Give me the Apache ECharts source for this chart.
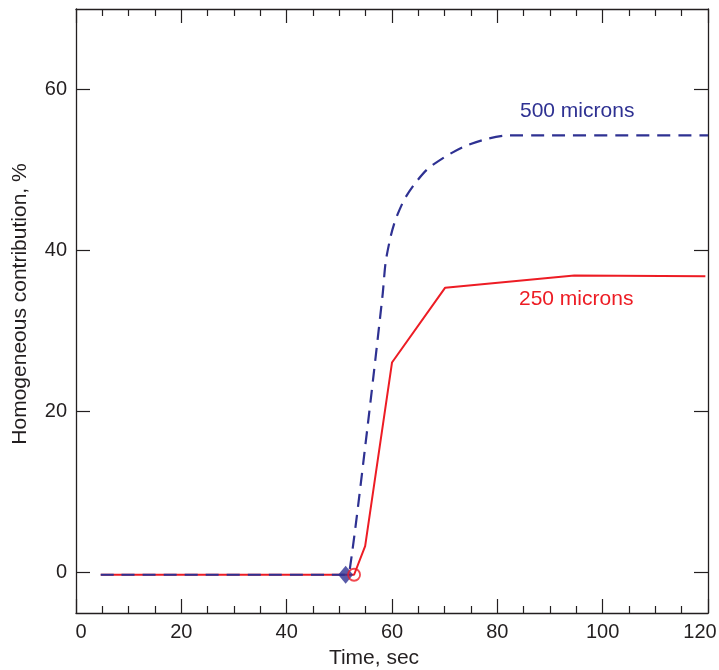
<!DOCTYPE html>
<html>
<head>
<meta charset="utf-8">
<script src="https://cdn.jsdelivr.net/npm/echarts@6/dist/echarts.min.js"></script>
<style>
html,body{margin:0;padding:0;background:#fff;}
#chart{width:719px;height:670px;}
</style>
</head>
<body>
<div id="chart"></div>
<script>
// ---- data ----
const xTicks = [0, 20, 40, 60, 80, 100, 120];
const yTicks = [0, 20, 40, 60];

const blue500X = [4.7, 51.2, 52.0, 55.3, 58.2, 58.8, 59.8, 60.7, 62.3, 64.2, 66.7, 70.2, 74.0, 78.2, 82.0, 120];
const blue500Y = [-0.25, -0.25, 0.5, 17.8, 34.4, 38.6, 41.9, 43.9, 46.3, 48.2, 50.1, 51.7, 53.0, 53.9, 54.3, 54.3];

const red250X = [4.7, 52.8, 54.9, 60.0, 70.1, 94.6, 119.5];
const red250Y = [-0.25, -0.25, 3.3, 26.1, 35.4, 36.9, 36.8];

const blueMarker = [51.2, -0.25];
const redMarker = [52.8, -0.25];

const seriesLabels = ['500 microns', '250 microns'];
const xName = 'Time, sec';
const yName = 'Homogeneous contribution, %';

// ---- chart ----
const zip = (xs, ys) => xs.map((x, i) => [x, ys[i]]);
const FONT = "'Liberation Sans', Arial, Helvetica, sans-serif";
const INK = '#231f20';
const BLUE = '#2e3192';
const RED = '#ed1c24';

const chart = echarts.init(document.getElementById('chart'), null, {renderer: 'canvas'});

const axisLineStyle = {show: true, onZero: false, lineStyle: {color: INK, width: 1.3}};
const lblStyle = {fontFamily: FONT, fontSize: 20, color: INK};
const xMin = xTicks[0], xMax = xTicks[xTicks.length - 1];

const option = {
  animation: false,
  backgroundColor: '#fff',
  grid: {left: 76, right: 11, top: 9, bottom: 57, containLabel: false, outerBoundsMode: 'none'},
  xAxis: [
    {
      type: 'value', position: 'bottom', min: xMin, max: xMax, interval: 20,
      name: xName, nameLocation: 'middle', nameGap: 35,
      nameTextStyle: {fontFamily: FONT, fontSize: 21, color: INK, padding: [0, 36, 0, 0]},
      axisLine: axisLineStyle,
      axisTick: {show: true, inside: true, length: 14, lineStyle: {color: INK, width: 1.2}},
      minorTick: {show: true, splitNumber: 4, length: 7, lineStyle: {color: INK, width: 1.2}},
      axisLabel: {
        fontFamily: FONT, fontSize: 20, color: INK, margin: 9,
        formatter: v => v === xMin ? '{pl|' + v + '}' : (v === xMax ? '{pr|' + v + '}' : String(v)),
        rich: {
          pl: Object.assign({padding: [0, 0, 0, 10]}, lblStyle),
          pr: Object.assign({padding: [0, 16, 0, 0]}, lblStyle)
        }
      },
      splitLine: {show: false}, minorSplitLine: {show: false}
    },
    {
      type: 'value', position: 'top', min: xMin, max: xMax, interval: 20,
      axisLine: axisLineStyle,
      axisTick: {show: true, inside: true, length: 14, lineStyle: {color: INK, width: 1.2}},
      minorTick: {show: true, splitNumber: 4, length: 7, lineStyle: {color: INK, width: 1.2}},
      axisLabel: {show: false},
      splitLine: {show: false}
    }
  ],
  yAxis: [
    {
      type: 'value', position: 'left', min: -5, max: 70,
      name: yName, nameLocation: 'middle', nameGap: 45,
      nameTextStyle: {fontFamily: FONT, fontSize: 21, color: INK, padding: [0, 0, 0, 14]},
      axisLine: axisLineStyle,
      axisTick: {show: true, inside: true, length: 14, customValues: yTicks, lineStyle: {color: INK, width: 1.2}},
      axisLabel: {fontFamily: FONT, fontSize: 20, color: INK, margin: 9, customValues: yTicks},
      splitLine: {show: false}
    },
    {
      type: 'value', position: 'right', min: -5, max: 70,
      axisLine: axisLineStyle,
      axisTick: {show: true, inside: true, length: 14, customValues: yTicks, lineStyle: {color: INK, width: 1.2}},
      axisLabel: {show: false, customValues: yTicks},
      splitLine: {show: false}
    }
  ],
  series: [
    {
      name: seriesLabels[1], type: 'line', xAxisIndex: 0, yAxisIndex: 0,
      data: zip(red250X, red250Y), symbol: 'none',
      lineStyle: {color: RED, width: 2}, z: 2
    },
    {
      name: seriesLabels[0], type: 'line', xAxisIndex: 0, yAxisIndex: 0,
      data: zip(blue500X, blue500Y), symbol: 'none', smooth: 0.25,
      lineStyle: {color: BLUE, width: 2.2, type: [13, 8]}, z: 3
    },
    {
      type: 'scatter', xAxisIndex: 0, yAxisIndex: 0,
      data: [blueMarker], symbol: 'diamond', symbolSize: [15, 18],
      itemStyle: {color: BLUE}, z: 4
    },
    {
      type: 'scatter', xAxisIndex: 0, yAxisIndex: 0,
      data: [redMarker], symbol: 'circle', symbolSize: 12,
      itemStyle: {color: 'rgba(255,255,255,0)', borderColor: RED, borderWidth: 1.8}, z: 5
    }
  ],
  graphic: [
    {type: 'text', left: 520, top: 101, z: 10,
     style: {text: seriesLabels[0], fill: BLUE, font: '21px ' + FONT}},
    {type: 'text', left: 519, top: 289, z: 10,
     style: {text: seriesLabels[1], fill: RED, font: '21px ' + FONT}}
  ]
};
chart.setOption(option);
</script>
</body>
</html>
